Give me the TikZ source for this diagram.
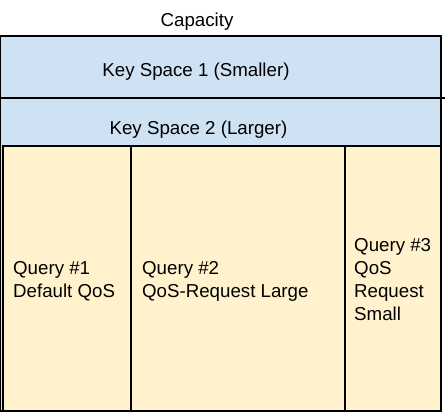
\documentclass[tikz,border=0pt]{standalone}
\usepackage{fontspec}
\setmainfont{Liberation Sans}
\definecolor{keyblue}{HTML}{CFE2F3}
\definecolor{queryyellow}{HTML}{FFF2CC}
\begin{document}
\begin{tikzpicture}[x=1pt,y=-1pt,
  region/.style={draw=black,line width=1.1pt},
  keyspace/.style={region,fill=keyblue},
  querybox/.style={region,fill=queryyellow},
  label/.style={inner sep=0pt,font=\fontsize{18.7}{23}\selectfont,text=black},
  querylabel/.style={label,align=left,anchor=base west}]
\useasboundingbox (0,0) rectangle (445,412);
% key spaces, the second one holding the queries
\path[keyspace] (0.6,98) rectangle (441,411);
\path[keyspace] (0.6,36) rectangle (441,98);
\draw[line width=1.1pt] (441,98) -- (445,98);
% query partitions
\path[querybox] (3,146) rectangle (131,411);
\path[querybox] (131,146) rectangle (345,411);
\path[querybox] (345,146) rectangle (441,411);
% labels (query labels are placed by the baseline of their last line)
\node[label] (cap) at (197,21.5) {Capacity};
\node[label] (ks1) at (196,71.5) {Key Space 1 (Smaller)};
\node[label] (ks2) at (198.5,130) {Key Space 2 (Larger)};
\node[querylabel] (q1) at (13,297) {Query \#1\\Default QoS};
\node[querylabel] (q2) at (142,297) {Query \#2\\QoS-Request Large};
\node[querylabel] (q3) at (354,320) {Query \#3\\QoS\\Request\\Small};
\end{tikzpicture}
\end{document}
